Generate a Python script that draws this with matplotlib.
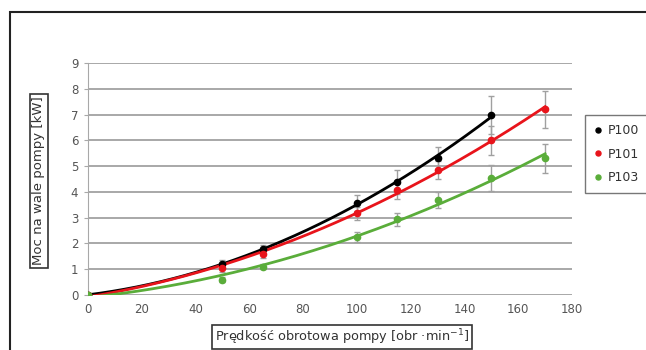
import numpy as np
import matplotlib
matplotlib.use("Agg")
import matplotlib.pyplot as plt
from matplotlib.patches import Rectangle

# Data
x_p100 = [0, 50, 65, 100, 115, 130, 150]
y_p100 = [0, 1.2, 1.8, 3.57, 4.38, 5.3, 6.98]
e_p100 = [0, 0.15, 0.15, 0.3, 0.45, 0.45, 0.75]

x_p101 = [0, 50, 65, 100, 115, 130, 150, 170]
y_p101 = [0, 1.05, 1.6, 3.17, 4.07, 4.84, 6.0, 7.2]
e_p101 = [0, 0.15, 0.15, 0.25, 0.35, 0.35, 0.55, 0.73]

x_p103 = [0, 50, 65, 100, 115, 130, 150, 170]
y_p103 = [0, 0.6, 1.1, 2.25, 2.94, 3.68, 4.53, 5.3]
e_p103 = [0, 0.1, 0.1, 0.2, 0.25, 0.3, 0.5, 0.55]

labels = ["P100", "P101", "P103"]
colors = ["#000000", "#e8141b", "#5aad3a"]
xticks = [0, 20, 40, 60, 80, 100, 120, 140, 160, 180]
yticks = [0, 1, 2, 3, 4, 5, 6, 7, 8, 9]

fig = plt.figure(figsize=(6.46, 3.5), dpi=100)
ax = fig.add_axes([88/646, 55/350, 484/646, 232/350])

series = [(x_p100, y_p100, e_p100), (x_p101, y_p101, e_p101), (x_p103, y_p103, e_p103)]
for (xs, ys, es), lab, col in zip(series, labels, colors):
    xs = np.array(xs, float); ys = np.array(ys, float)
    ax.errorbar(xs, ys, yerr=es, fmt="none", ecolor="#a0a0a0", elinewidth=1.0,
                capsize=2.5, capthick=1.0, zorder=3)
    coef = np.polyfit(xs, ys, 2)
    xx = np.linspace(0, xs.max(), 200)
    ax.plot(xx, np.polyval(coef, xx), color=col, lw=2.0, zorder=4)
    ax.plot(xs, ys, "o", color=col, ms=4.5, zorder=5, label=lab)

ax.set_xlim(0, 180)
ax.set_ylim(0, 9)
ax.set_xticks(xticks)
ax.set_yticks(yticks)
ax.yaxis.grid(True, color="#a8a8a8", lw=1.4)
ax.set_axisbelow(True)
for s in ["top", "right", "bottom"]:
    ax.spines[s].set_visible(False)
ax.spines["left"].set_color("#a8a8a8")
ax.tick_params(axis="both", colors="#555555", labelsize=8.5, length=0, pad=6)
ax.tick_params(axis="y", length=3, color="#a8a8a8", pad=4)

leg = ax.legend(loc="upper left", bbox_to_anchor=(579/646, (350-109)/350),
                bbox_transform=fig.transFigure, frameon=True, fancybox=False,
                fontsize=9, handlelength=0.6, handletextpad=0.5, borderpad=0.7,
                labelspacing=0.85, markerscale=0.8)
leg.get_frame().set_edgecolor("#555555")
leg.get_frame().set_linewidth(1.0)
for t in leg.get_texts():
    t.set_color("#333333")

box = dict(boxstyle="square,pad=0.2", fc="white", ec="#333333", lw=1.2)
fig.text(39/646, (350-181)/350, "Moc na wale pompy [kW]", rotation=90,
         ha="center", va="center", fontsize=9.5, color="#333333", bbox=box)
fig.text(342/646, (350-337)/350, "Prędkość obrotowa pompy [obr ·min$^{-1}$]",
         ha="center", va="center", fontsize=9.3, color="#333333", bbox=box)

fig.patches.append(Rectangle((10/646, -0.1), 1.0, (350-12)/350 + 0.1,
                             transform=fig.transFigure, fill=False,
                             ec="#222222", lw=1.5))

fig.savefig("out.png", dpi=100)
